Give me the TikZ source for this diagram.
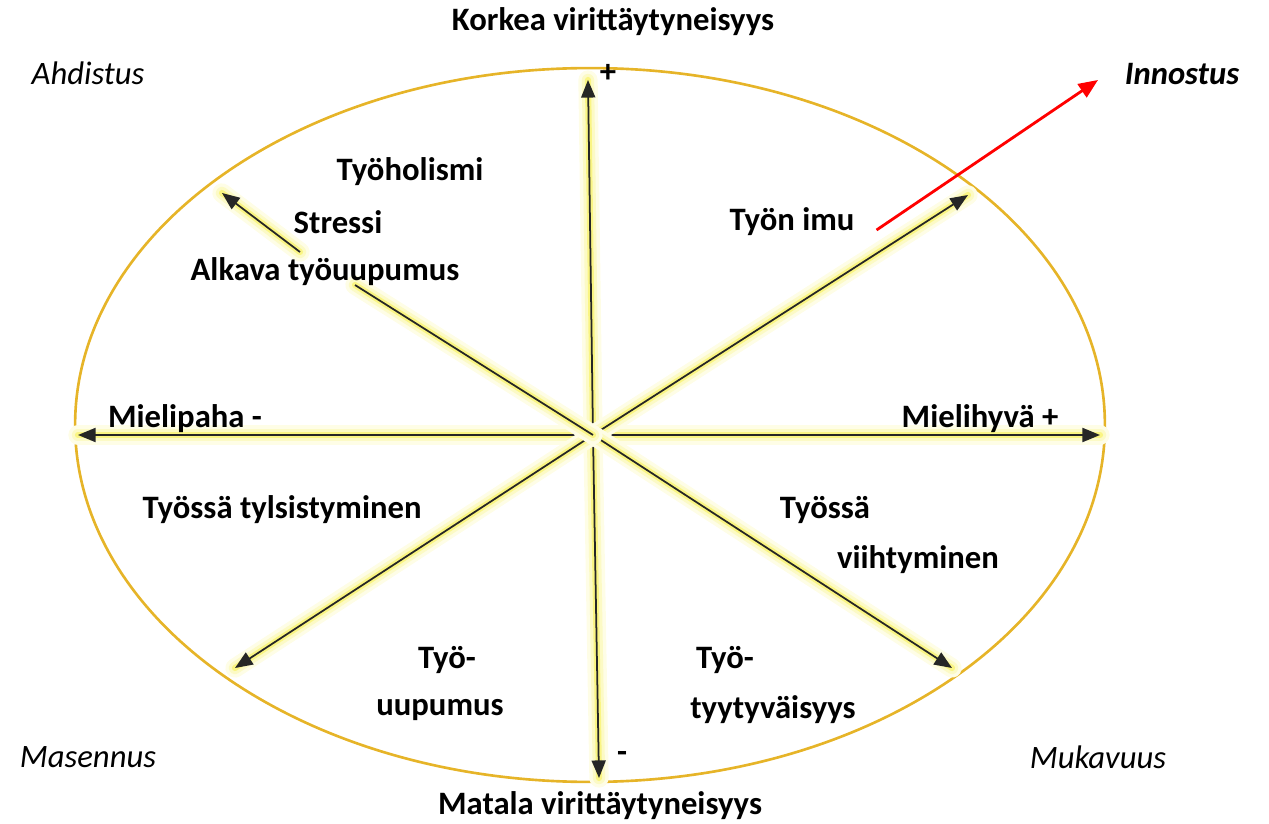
\documentclass[tikz,border=0pt]{standalone}
\usepackage{fontspec}
\setmainfont{Carlito}
\usetikzlibrary{arrows.meta}
\definecolor{ringgold}{RGB}{230,180,40}
\definecolor{glowyellow}{RGB}{248,242,90}

\begin{document}
\begin{tikzpicture}[x=0.02cm, y=-0.02cm,
    lbl/.style={font=\fontsize{18.6}{22}\selectfont\bfseries, inner sep=1pt},
    mood/.style={font=\fontsize{18.6}{22}\selectfont\itshape, inner sep=1pt},
    axis/.style={preaction={draw, -, line cap=round, line width=11pt, glowyellow!15},
                 preaction={draw, -, line cap=round, line width=7pt, glowyellow!35},
                 preaction={draw, -, line cap=round, line width=3.5pt, glowyellow!75},
                 draw=black!85, line width=1pt},
    tip/.style={-{Triangle[length=10pt, width=8pt]}}]

    \useasboundingbox (0,0) rectangle (1269,824);

    % ELLIPSE
    \draw[ringgold, line width=1.5pt] (590,425) ellipse [x radius=10.3cm, y radius=7.14cm];

    % AXIS POINTS
    \coordinate (o) at (593,435);
    \coordinate (ylos) at (588,80);
    \coordinate (alas) at (599,778);
    \coordinate (vasen) at (78,435);
    \coordinate (oikea) at (1100,435);
    \coordinate (ne) at (968,195);
    \coordinate (sw) at (235,668);
    \coordinate (se) at (952,668);
    \coordinate (nw) at (355,285);
    \coordinate (stressa) at (300,252);
    \coordinate (stressb) at (222,193);

    % AXES
    \draw[axis, tip] (o) -- (ylos);
    \draw[axis, tip] (o) -- (alas);
    \draw[axis, tip] (o) -- (vasen);
    \draw[axis, tip] (o) -- (oikea);
    \draw[axis, tip] (o) -- (ne);
    \draw[axis, tip] (o) -- (sw);
    \draw[axis, tip] (o) -- (se);
    \draw[axis] (o) -- (nw);
    \draw[axis, tip] (stressa) -- (stressb);

    % AXIS LABELS
    \node[lbl] (korkea) at (613,22) {Korkea virittäytyneisyys};
    \node[lbl] (matala) at (600,806) {Matala virittäytyneisyys};
    \node[lbl] (plus) at (608,73) {+};
    \node[lbl] (miinus) at (622,757) {-};
    \node[lbl] (paha) at (185,419) {Mielipaha -};
    \node[lbl] (hyva) at (980,419) {Mielihyvä +};

    % CORNER MOODS
    \node[mood] (ahdistus) at (88,73) {Ahdistus};
    \node[mood] (masennus) at (88,757) {Masennus};
    \node[mood] (mukavuus) at (1098,757) {Mukavuus};
    \node[mood, font=\fontsize{18.6}{22}\selectfont\bfseries\itshape] (innostus) at (1182,74) {Innostus};

    % STATES
    \node[lbl] (holismi) at (410,172) {Työholismi};
    \node[lbl] (stressi) at (338,222) {Stressi};
    \node[lbl] (alkava) at (325,272) {Alkava työuupumus};
    \node[lbl] (imu) at (792,222) {Työn imu};
    \node[lbl] (tylsis) at (282,510) {Työssä tylsistyminen};
    \node[lbl] (tyossa) at (825,510) {Työssä};
    \node[lbl] (viiht) at (918,560) {viihtyminen};
    \node[lbl] (tyo1) at (447,660) {Työ-};
    \node[lbl] (uupu) at (440,710) {uupumus};
    \node[lbl] (tyo2) at (725,660) {Työ-};
    \node[lbl] (tyyt) at (773,710) {tyytyväisyys};

    % RED ARROW
    \coordinate (punainen) at (1098,80);
    \draw[red, line width=1.6pt, -{Triangle[length=11pt, width=9pt]}]
        ([xshift=0.4cm, yshift=-0.16cm]imu.east) -- (punainen);

\end{tikzpicture}
\end{document}
